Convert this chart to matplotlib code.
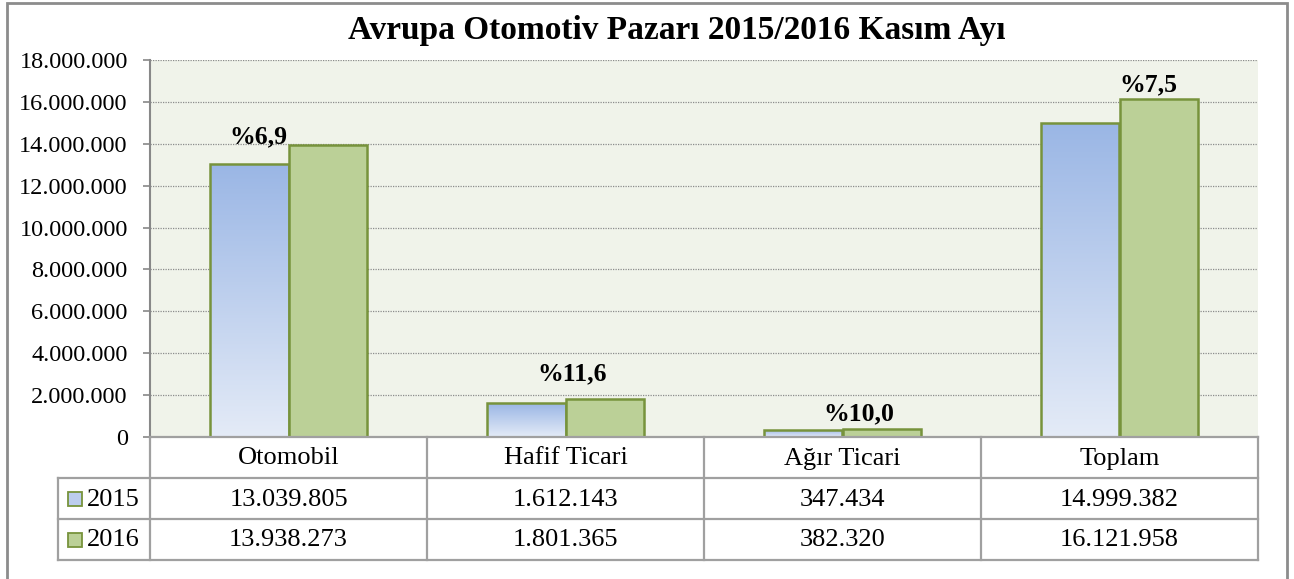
import matplotlib.pyplot as plt
import numpy as np
from matplotlib.colors import LinearSegmentedColormap
from matplotlib.patches import Rectangle

# veriler
kategoriler = ['Otomobil', 'Hafif Ticari', 'Ağır Ticari', 'Toplam']
yil_2015 = [13039805, 1612143, 347434, 14999382]
yil_2016 = [13938273, 1801365, 382320, 16121958]
degisim = ['%6,9', '%11,6', '%10,0', '%7,5']
seriler = ['2015', '2016']

W, H = 1294, 579
plt.rcParams['font.family'] = ['Liberation Serif', 'DejaVu Serif']

fig = plt.figure(figsize=(W / 100, H / 100), dpi=100)


def fx(px):
    return px / W


def fy(py):
    return 1 - py / H


# grafik alanı (piksel olarak)
L, R, T, B = 150, 1258, 60, 437
ax = fig.add_axes([fx(L), fy(B), fx(R - L), (B - T) / H])
ax.set_facecolor('#F0F3EA')

x = np.arange(len(kategoriler))
gen = 0.285
kenar = '#77933C'

b1 = ax.bar(x - gen / 2, yil_2015, gen, color='none', edgecolor=kenar, linewidth=1.8, zorder=3)
b2 = ax.bar(x + gen / 2, yil_2016, gen, color='#BBD097', edgecolor=kenar, linewidth=1.8, zorder=3)

# mavi çubuklar için degrade
cmap = LinearSegmentedColormap.from_list('mavi', ['#E4EBF7', '#9AB6E5'])
grad = np.linspace(0, 1, 256).reshape(-1, 1)
for bar in b1:
    x0, y0 = bar.get_x(), bar.get_y()
    w, h = bar.get_width(), bar.get_height()
    im = ax.imshow(grad, cmap=cmap, extent=[x0, x0 + w, y0, y0 + h],
                   aspect='auto', origin='lower', zorder=2.5)
    im.set_clip_path(bar)

ax.set_xlim(-0.5, len(kategoriler) - 0.5)
ax.set_ylim(0, 18000000)
ax.set_yticks(np.arange(0, 18000001, 2000000))
ax.set_yticklabels([f'{v:,.0f}'.replace(',', '.') for v in np.arange(0, 18000001, 2000000)],
                   fontsize=17.5)
ax.set_xticks([])
ax.grid(axis='y', linestyle=(0, (1, 1)), color='#8C8C8C', linewidth=0.9, zorder=0)
ax.tick_params(axis='y', length=5, width=1.2, color='#888888', pad=11)
for s in ['top', 'right', 'bottom']:
    ax.spines[s].set_visible(False)
ax.spines['left'].set_color('#888888')
ax.spines['left'].set_linewidth(1.5)

# değişim etiketleri
kaydir_x = [-0.107, 0.024, 0.058, 0.105]
kaydir_y = [1, 14, 6, 6]
for i in range(len(kategoriler)):
    ax.annotate(degisim[i], (x[i] + kaydir_x[i], yil_2016[i]), xytext=(0, kaydir_y[i]),
                textcoords='offset points', ha='center', va='baseline',
                fontsize=18.5, fontweight='bold', zorder=5)

# başlık
fig.text(fx(677), fy(30), 'Avrupa Otomotiv Pazarı 2015/2016 Kasım Ayı',
         ha='center', va='center', fontsize=24, fontweight='bold')

# veri tablosu
cizgi = '#A0A0A0'
sat = [437, 478, 519, 560]
sol = 58
sutun = np.linspace(L, R, len(kategoriler) + 1)


def hline(y, x0, x1):
    fig.add_artist(plt.Line2D([fx(x0), fx(x1)], [fy(y), fy(y)], color=cizgi, linewidth=1.6))


def vline(xp, y0, y1):
    fig.add_artist(plt.Line2D([fx(xp), fx(xp)], [fy(y0), fy(y1)], color=cizgi, linewidth=1.6))


hline(sat[0], L, R)
for yy in sat[1:]:
    hline(yy, sol, R)
for xx in sutun:
    vline(xx, sat[0], sat[3])
vline(sol, sat[1], sat[3])

for j, k in enumerate(kategoriler):
    cx = (sutun[j] + sutun[j + 1]) / 2
    fig.text(fx(cx), fy((sat[0] + sat[1]) / 2 + 1), k, ha='center', va='center', fontsize=19)
    fig.text(fx(cx), fy((sat[1] + sat[2]) / 2 + 1), f'{yil_2015[j]:,}'.replace(',', '.'),
             ha='center', va='center', fontsize=19)
    fig.text(fx(cx), fy((sat[2] + sat[3]) / 2 + 1), f'{yil_2016[j]:,}'.replace(',', '.'),
             ha='center', va='center', fontsize=19)

# lejant kutuları
for r, (ad, renk) in enumerate(zip(seriler, ['#BCCDEE', '#BBD097'])):
    yc = (sat[r + 1] + sat[r + 2]) / 2
    kutu = Rectangle((fx(68), fy(yc + 7)), fx(14), 14 / H, transform=fig.transFigure,
                     facecolor=renk, edgecolor=kenar, linewidth=1.3)
    fig.add_artist(kutu)
    fig.text(fx(87), fy(yc + 1), ad, ha='left', va='center', fontsize=19)

# dış çerçeve
fig.add_artist(Rectangle((fx(7), fy(H + 2)), fx(1280), (H - 1) / H, transform=fig.transFigure,
                         facecolor='none', edgecolor='#8C8C8C', linewidth=2))

fig.savefig('out.png', dpi=100)
